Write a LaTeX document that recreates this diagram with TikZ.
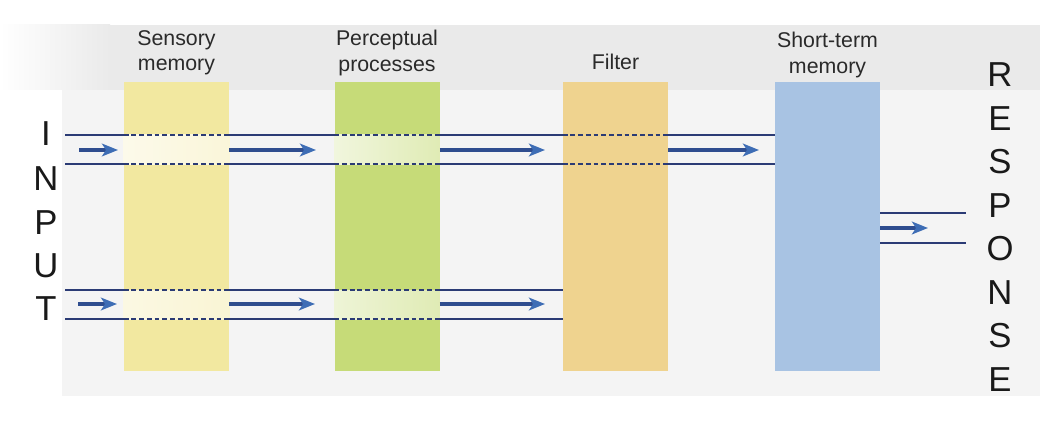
\documentclass[tikz,border=0pt]{standalone}
\usepackage{fontspec}
\setmainfont{Liberation Sans}
\usetikzlibrary{arrows.meta}
\definecolor{ysens}{HTML}{F2E8A0}
\definecolor{gperc}{HTML}{C6DB78}
\definecolor{tfilt}{HTML}{EFD38F}
\definecolor{bstm}{HTML}{A8C3E3}
\definecolor{navy}{HTML}{2B3B75}
\definecolor{shaft}{HTML}{2F4D8F}
\definecolor{head}{HTML}{3E6DB5}
\definecolor{txt}{HTML}{2A2A2A}
\definecolor{pageband}{HTML}{EAEAEA}
\definecolor{pagebody}{HTML}{F4F4F4}
\begin{document}
\begin{tikzpicture}[x=0.75pt,y=-0.75pt,
  stage/.style={rectangle, draw=none, minimum width=78.75pt, minimum height=216.75pt, inner sep=0pt},
  lab/.style={font=\fontsize{16}{19}\selectfont, text=txt, align=center, inner sep=0pt},
  big/.style={font=\fontsize{26}{26}\selectfont, text=black!90, inner sep=0pt},
  chan/.style={draw=navy, line width=1.2pt},
  chand/.style={chan, dash pattern=on 3.6pt off 2.2pt},
  flow/.style={draw=shaft, line width=2.4pt, -{Stealth[length=12pt,width=9.5pt,inset=3pt,color=head]}},
]
\useasboundingbox (0,0) rectangle (1062,424);
% page background
\fill[pagebody] (62,90) rectangle (1040,396);
\shade[left color=white, right color=pageband] (0,25) rectangle (110,90);
\fill[pageband] (110,25) rectangle (1040,90);

% stages
\node[stage, fill=ysens] (sens) at (176.5,226.5) {};
\node[stage, fill=gperc] (perc) at (387,226.5) {};
\node[stage, fill=tfilt] (filt) at (615.5,226.5) {};
\node[stage, fill=bstm] (stm) at (827.5,226.5) {};

% labels
\node[lab, anchor=north] (lsens) at (sens.north |- 0,30) {Sensory\\memory};
\node[lab, anchor=north] (lperc) at (perc.north |- 0,30) {Perceptual\\processes};
\node[lab, anchor=base] (lfilt) at (filt.north |- 0,70) {Filter};
\node[lab, anchor=north] (lstm) at (stm.north |- 0,32) {Short-term\\memory};

% channel coordinates
\coordinate (a1) at (65,135);
\coordinate (b1) at (65,164);
\coordinate (m1) at (79,150);
\coordinate (n1) at (118,150);
\coordinate (p1) at (316,150);
\coordinate (q1) at (545,150);
\coordinate (r1) at (759,150);
\coordinate (a2) at (65,290);
\coordinate (b2) at (65,319);
\coordinate (m2) at (78,304);
\coordinate (n2) at (117,304);
\coordinate (p2) at (315,304);
\coordinate (q2) at (545,304);
\coordinate (o1) at (966,213);
\coordinate (o2) at (966,243);
\coordinate (om) at (928,228);

% highlight bands inside boxes
\shade[left color=ysens!22, right color=ysens!40] (sens.west |- a1) rectangle (sens.east |- b1);
\shade[left color=gperc!25, right color=gperc!55] (perc.west |- a1) rectangle (perc.east |- b1);
\shade[left color=ysens!30, right color=ysens!45] (sens.west |- a2) rectangle (sens.east |- b2);
\shade[left color=gperc!30, right color=gperc!55] (perc.west |- a2) rectangle (perc.east |- b2);

% upper channel
\foreach \c in {a1,b1}{
  \draw[chan] (\c) -- (sens.west |- \c);
  \draw[chand] (sens.west |- \c) -- (sens.east |- \c);
  \draw[chan] (sens.east |- \c) -- (perc.west |- \c);
  \draw[chand] (perc.west |- \c) -- (perc.east |- \c);
  \draw[chan] (perc.east |- \c) -- (filt.west |- \c);
  \draw[chand] (filt.west |- \c) -- (filt.east |- \c);
  \draw[chan] (filt.east |- \c) -- (stm.west |- \c);
}
% lower channel
\foreach \c in {a2,b2}{
  \draw[chan] (\c) -- (sens.west |- \c);
  \draw[chand] (sens.west |- \c) -- (sens.east |- \c);
  \draw[chan] (sens.east |- \c) -- (perc.west |- \c);
  \draw[chand] (perc.west |- \c) -- (perc.east |- \c);
  \draw[chan] (perc.east |- \c) -- (filt.west |- \c);
}
% output channel
\draw[chan] (stm.east |- o1) -- (o1);
\draw[chan] (stm.east |- o2) -- (o2);

% flow arrows
\draw[flow] (m1) -- (n1);
\draw[flow] (sens.east |- m1) -- (p1);
\draw[flow] (perc.east |- m1) -- (q1);
\draw[flow] (filt.east |- m1) -- (r1);
\draw[flow] (m2) -- (n2);
\draw[flow] (sens.east |- m2) -- (p2);
\draw[flow] (perc.east |- m2) -- (q2);
\draw[flow] (stm.east |- om) -- (om);

% INPUT
\node[big] (i1) at (46,134) {I};
\node[big] (i2) at (46,179) {N};
\node[big] (i3) at (46,223) {P};
\node[big] (i4) at (46,266) {U};
\node[big] (i5) at (46,309) {T};
% RESPONSE
\node[big] (r1l) at (1000,75) {R};
\node[big] (r2l) at (1000,118.5) {E};
\node[big] (r3l) at (1000,162) {S};
\node[big] (r4l) at (1000,205.5) {P};
\node[big] (r5l) at (1000,249) {O};
\node[big] (r6l) at (1000,292.5) {N};
\node[big] (r7l) at (1000,336) {S};
\node[big] (r8l) at (1000,379.5) {E};
\end{tikzpicture}
\end{document}
